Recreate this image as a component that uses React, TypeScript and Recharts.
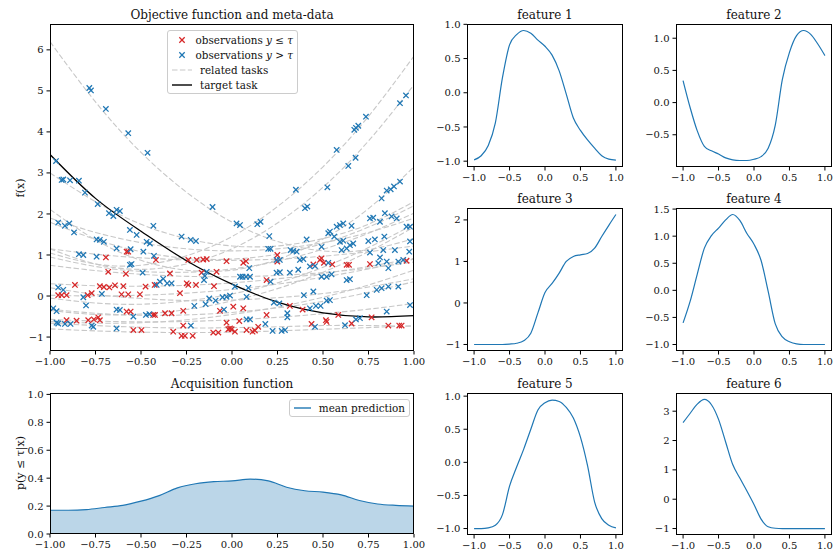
import React from "react";
import {
  ComposedChart,
  LineChart,
  AreaChart,
  Line,
  Area,
  Scatter,
  XAxis,
  YAxis,
} from "recharts";

const FONT = "'DejaVu Serif', 'Liberation Serif', serif";
const BLUE = "#1f77b4";
const RED = "#d62728";
const GRAY = "#c8c8c8";

// x positions where each task curve is sampled
const taskX = [-1, -0.75, -0.5, -0.25, 0, 0.25, 0.5, 0.75, 1];

const relatedTasks: number[][] = [
  [6.2, 4.73, 3.5, 2.53, 1.8, 1.33, 1.1, 1.13, 1.4],
  [1.05, 0.78, 0.75, 0.98, 1.45, 2.18, 3.15, 4.38, 5.85],
  [1.15, 0.78, 0.65, 0.78, 1.15, 1.78, 2.65, 3.78, 5.15],
  [2.11, 1.37, 0.87, 0.63, 0.63, 0.89, 1.39, 2.13, 3.15],
  [3.0, 2.3, 1.75, 1.4, 1.22, 1.22, 1.4, 1.75, 2.3],
  [1.9, 1.55, 1.3, 1.15, 1.1, 1.15, 1.3, 1.55, 1.9],
  [1.15, 1.02, 0.93, 0.88, 0.87, 0.9, 0.97, 1.08, 1.22],
  [0.75, 0.62, 0.53, 0.48, 0.47, 0.5, 0.57, 0.68, 0.83],
  [0.3, 0.25, 0.24, 0.26, 0.32, 0.42, 0.55, 0.72, 0.92],
  [0.2, 0.04, -0.06, -0.11, -0.1, -0.04, 0.06, 0.22, 0.42],
  [0.02, 0.0, 0.02, 0.07, 0.16, 0.29, 0.46, 0.66, 0.9],
  [-0.32, -0.42, -0.47, -0.46, -0.4, -0.29, -0.13, 0.09, 0.35],
  [-0.57, -0.61, -0.63, -0.62, -0.58, -0.52, -0.43, -0.32, -0.18],
  [-0.66, -0.72, -0.76, -0.78, -0.77, -0.75, -0.72, -0.72, -0.74],
  [-0.8, -0.85, -0.88, -0.89, -0.88, -0.85, -0.81, -0.77, -0.72],
  [1.8, 1.38, 1.08, 0.92, 0.9, 1.02, 1.28, 1.68, 2.2],
  [-0.05, -0.17, -0.2, -0.12, 0.05, 0.32, 0.7, 1.18, 1.75],
  [-0.35, -0.45, -0.44, -0.33, -0.12, 0.18, 0.58, 1.08, 1.68],
  [0.95, 0.72, 0.6, 0.58, 0.66, 0.85, 1.14, 1.53, 2.02],
  [-0.62, -0.66, -0.65, -0.58, -0.45, -0.27, -0.03, 0.27, 0.63],
];

const targetTask = [3.45, 2.38, 1.58, 0.86, 0.29, -0.15, -0.41, -0.51, -0.48];

// observations at or below the task threshold
const obsLow: [number, number][] = [
  [-0.955, 0.02], [-0.936, 0.02], [-0.909, 0.02], [-0.863, 0.27], [-0.793, 0.02],
  [-0.771, 0.07], [-0.726, 0.24], [-0.704, 0.22], [-0.693, 0.94], [-0.674, 0.21],
  [-0.643, 0.26], [-0.68, 0.59], [-0.607, 0.04], [-0.57, 0.04], [-0.583, 0.54],
  [-0.579, 1.08], [-0.57, 1.08], [-0.597, 0.24], [-0.506, 0.04], [-0.475, 0.23],
  [-0.425, 0.27], [-0.418, 0.88], [-0.579, -0.38], [-0.557, -0.38], [-0.433, -0.46],
  [-0.423, -0.46], [-0.909, -0.59], [-0.854, -0.6], [-0.79, -0.59], [-0.759, -0.57],
  [-0.735, -0.52], [-0.726, -0.59], [-0.542, -0.83], [-0.497, -0.83], [-0.368, -0.42],
  [-0.332, -0.42], [-0.341, 0.55], [-0.286, 0.07], [-0.323, -0.87], [-0.277, -0.97],
  [-0.259, -0.97], [-0.216, -0.97], [-0.268, -0.36], [-0.268, -0.72], [-0.249, 0.31],
  [-0.24, 0.27], [-0.24, 0.88], [-0.194, 0.88], [-0.158, 0.89], [-0.139, 0.9],
  [-0.167, 0.57], [-0.198, 0.27], [-0.099, 0.24], [-0.085, 0.59], [-0.066, -0.36],
  [-0.103, -0.89], [-0.075, -0.89], [-0.03, 0.85], [-0.03, -0.65], [-0.02, -0.81],
  [-0.011, -0.79], [-0.002, -0.81], [0.007, -0.26], [0.016, -0.87], [0.062, 0.81],
  [0.077, 0.85], [0.062, -0.3], [0.04, -0.61], [0.08, -0.83], [0.113, -0.87],
  [0.126, -0.84], [0.144, -0.75], [0.19, 0.39], [0.19, -0.46], [0.249, 1.0],
  [0.249, 0.84], [0.318, -0.24], [0.388, -0.33], [0.437, -0.68], [0.447, 0.77],
  [0.483, 0.88], [0.492, 0.92], [0.505, 0.81], [0.551, 0.77], [0.516, -0.59],
  [0.52, -0.63], [0.584, -0.46], [0.63, 0.76], [0.643, 0.76], [0.767, -0.52],
  [0.758, 0.78], [0.859, -0.72], [0.919, -0.72], [0.932, -0.72], [0.959, 0.86],
  [0.657, -0.67],
];

// observations above the task threshold
const obsHigh: [number, number][] = [
  [-0.967, 3.29], [-0.936, 2.83], [-0.927, 2.84], [-0.89, 2.82], [-0.841, 2.81],
  [-0.808, 2.52], [-0.784, 5.07], [-0.775, 5.01], [-0.693, 4.56], [-0.57, 3.97],
  [-0.464, 3.49], [0.575, 3.56], [0.672, 4.05], [0.681, 4.1], [0.694, 4.15],
  [0.736, 4.37], [0.923, 4.7], [0.956, 4.89], [0.639, 3.17], [0.679, 3.37],
  [0.524, 2.65], [0.351, 2.59], [0.822, 2.38], [0.85, 2.57], [0.872, 2.6],
  [0.89, 2.67], [0.923, 2.79],
  [-0.738, 2.24], [-0.676, 2.02], [-0.652, 1.95], [-0.634, 2.1], [-0.616, 2.07],
  [-0.955, 1.79], [-0.918, 1.71], [-0.894, 1.77], [-0.868, 1.55], [-0.841, 1.02],
  [-0.817, 1.0], [-0.744, 0.96], [-0.744, 1.38], [-0.726, 1.37], [-0.704, 1.32],
  [-0.634, 1.16], [-0.561, 1.61], [-0.557, 1.14], [-0.524, 1.49], [-0.487, 1.08],
  [-0.469, 1.32], [-0.451, 1.28], [-0.432, 1.71], [-0.429, 0.98], [-0.561, 0.76],
  [-0.552, 0.78], [-0.491, 0.57], [-0.955, 0.21], [-0.927, 0.15], [-0.817, -0.03],
  [-0.802, -0.23], [-0.715, 0.05], [-0.982, -0.3], [-0.964, -0.37], [-0.964, -0.65],
  [-0.955, -0.67], [-0.918, -0.68], [-0.887, -0.68], [-0.771, -0.72], [-0.762, -0.75],
  [-0.634, -0.33], [-0.616, -0.34], [-0.634, -0.79], [-0.542, -0.5], [-0.473, -0.46],
  [-0.454, -0.44], [-0.396, 0.35], [-0.378, 0.42], [-0.414, 0.27], [-0.356, 0.31],
  [-0.332, 0.31], [-0.277, 1.45], [-0.227, 1.37], [-0.198, 1.34], [-0.139, 0.59],
  [-0.154, 0.39], [-0.149, 0.49], [-0.125, -0.06], [-0.145, -0.2], [-0.207, -0.24],
  [-0.226, -0.72], [-0.09, -0.11], [-0.052, -0.03], [-0.03, -0.02], [-0.011, 0.01],
  [-0.044, -0.33], [0.016, 0.23], [0.044, 0.47], [0.058, 0.47], [0.077, 0.47],
  [0.099, 0.47], [0.095, 0.68], [0.09, 0.2], [0.08, -0.02], [0.08, -0.57],
  [0.099, -0.57], [0.025, 1.77], [0.044, 1.73], [0.139, 1.75], [0.157, 1.81],
  [-0.107, 2.17], [0.205, 1.46], [0.199, 1.15], [0.212, 1.15], [0.245, 0.88],
  [0.263, 0.88], [0.245, 0.57], [0.263, 0.58], [0.212, 0.35], [0.183, -0.68],
  [0.223, -0.85], [0.273, -0.85], [0.291, -0.83], [0.23, -0.16], [0.26, -0.18],
  [0.304, -0.42], [0.304, -0.52], [0.322, 1.12], [0.337, 1.1], [0.355, 1.08],
  [0.318, 0.57], [0.364, 0.64], [0.373, 0.88], [0.392, 0.9], [0.401, 2.14],
  [0.414, 2.18], [0.41, 1.38], [0.428, 0.72], [0.456, 0.73], [0.395, 0.02],
  [0.447, 0.11], [0.428, -0.3], [0.461, -0.24], [0.487, -0.24], [0.52, -0.11],
  [0.538, -0.1], [0.492, 0.47], [0.52, 0.47], [0.492, 1.2], [0.529, 0.81],
  [0.547, 0.53], [0.456, -0.75], [0.529, 1.53], [0.538, 1.57], [0.562, 1.45],
  [0.575, 1.69], [0.593, 1.73], [0.611, 1.77], [0.593, 1.32], [0.611, 1.35],
  [0.602, 1.12], [0.63, 1.16], [0.648, 1.24], [0.666, 1.28], [0.657, 1.71],
  [0.63, 0.39], [0.648, 0.41], [0.621, -0.71], [0.681, -0.57], [0.703, -0.54],
  [0.74, 0.02], [0.749, 1.34], [0.785, 1.38], [0.758, 1.89], [0.776, 1.91],
  [0.758, 1.06], [0.804, 0.8], [0.831, 1.12], [0.837, 1.45], [0.813, 1.81],
  [0.84, 2.02], [0.877, 1.94], [0.905, 1.89], [0.859, 0.68], [0.85, 0.84],
  [0.914, 0.84], [0.941, 0.88], [0.795, 0.15], [0.822, 0.19], [0.859, 0.23],
  [0.85, -0.38], [0.914, 0.23], [0.978, -0.22], [0.959, 1.69], [0.978, 1.69],
  [0.978, 1.33], [0.974, 1.08], [0.813, 0.94], [0.895, 1.12],
];

const mainXTicks = [-1, -0.75, -0.5, -0.25, 0, 0.25, 0.5, 0.75, 1];
const mainYTicks = [-1, 0, 1, 2, 3, 4, 5, 6];

// acquisition function: mean prediction of p(y <= tau | x)
const acqX = [-1, -0.9, -0.8, -0.7, -0.6, -0.5, -0.4, -0.3, -0.2, -0.1, 0, 0.1, 0.2, 0.3, 0.4, 0.5, 0.6, 0.7, 0.8, 0.9, 1];
const acqMean = [0.17, 0.17, 0.175, 0.19, 0.205, 0.235, 0.275, 0.33, 0.36, 0.375, 0.38, 0.393, 0.38, 0.335, 0.31, 0.3, 0.28, 0.24, 0.215, 0.205, 0.2];
const acqYTicks = [0, 0.2, 0.4, 0.6, 0.8, 1.0];

// learned features, sampled on the same grid
const featureX = acqX;
const feature1 = [-0.98, -0.92, -0.77, -0.44, 0.22, 0.7, 0.85, 0.91, 0.87, 0.77, 0.68, 0.55, 0.32, -0.02, -0.37, -0.55, -0.69, -0.81, -0.92, -0.97, -0.985];
const feature2 = [0.34, -0.08, -0.44, -0.68, -0.75, -0.8, -0.86, -0.89, -0.9, -0.9, -0.88, -0.84, -0.71, -0.35, 0.36, 0.78, 1.04, 1.12, 1.06, 0.91, 0.73];
const feature3 = [-1.0, -1.0, -1.0, -1.0, -1.0, -0.99, -0.97, -0.91, -0.73, -0.24, 0.25, 0.47, 0.72, 1.0, 1.12, 1.16, 1.19, 1.32, 1.6, 1.87, 2.13];
const feature4 = [-0.6, -0.2, 0.3, 0.78, 1.01, 1.15, 1.3, 1.4, 1.29, 1.05, 0.85, 0.55, -0.02, -0.62, -0.86, -0.95, -0.99, -1.0, -1.0, -1.0, -1.0];
const feature5 = [-1.0, -1.0, -0.99, -0.95, -0.79, -0.36, -0.07, 0.2, 0.5, 0.79, 0.9, 0.94, 0.92, 0.83, 0.67, 0.38, -0.05, -0.6, -0.85, -0.95, -0.99];
const feature6 = [2.61, 2.93, 3.24, 3.4, 3.22, 2.72, 1.95, 1.18, 0.72, 0.28, -0.18, -0.68, -0.94, -0.99, -1.0, -1.0, -1.0, -1.0, -1.0, -1.0, -1.0];
const featureXTicks = [-1, -0.5, 0, 0.5, 1];

type Box = { left: number; top: number; width: number; height: number };

const PAD = 6;
const RPAD = 16;
const YW = 40;
const XH = 24;

const tickStyle = { fontSize: 10, fontFamily: FONT, fill: "#111" };

const fmt = (digits: number) => (v: number) =>
  v.toFixed(digits).replace("-", "\u2212");

const toPts = (xs: number[], ys: number[]) => xs.map((x, i) => ({ x, y: ys[i] }));

const crossShape = (color: string) => (props: any) => {
  const { cx, cy } = props;
  const r = 2.7;
  return (
    <g stroke={color} strokeWidth={1.25}>
      <line x1={cx - r} y1={cy - r} x2={cx + r} y2={cy + r} />
      <line x1={cx - r} y1={cy + r} x2={cx + r} y2={cy - r} />
    </g>
  );
};

function Panel({ box, title, children }: { box: Box; title: string; children: React.ReactNode }) {
  return (
    <>
      <div style={{ position: "absolute", left: box.left - YW, top: box.top - PAD }}>{children}</div>
      <div
        style={{
          position: "absolute",
          left: box.left,
          top: box.top,
          width: box.width,
          height: box.height,
          border: "1px solid #000",
          boxSizing: "border-box",
          pointerEvents: "none",
        }}
      />
      <div
        style={{
          position: "absolute",
          left: box.left,
          top: box.top - 15,
          width: box.width,
          textAlign: "center",
          fontFamily: FONT,
          fontSize: 12,
          lineHeight: "12px",
          color: "#111",
          whiteSpace: "nowrap",
        }}
      >
        {title}
      </div>
    </>
  );
}

function YLabel({ x, y, children }: { x: number; y: number; children: React.ReactNode }) {
  return (
    <div
      style={{
        position: "absolute",
        left: x,
        top: y,
        transform: "translate(-50%, -50%) rotate(-90deg)",
        fontFamily: FONT,
        fontSize: 11,
        color: "#111",
        whiteSpace: "nowrap",
      }}
    >
      {children}
    </div>
  );
}

function xAxis(domain: number[], ticks: number[], digits: number) {
  return (
    <XAxis
      type="number"
      dataKey="x"
      domain={domain}
      ticks={ticks}
      tickFormatter={fmt(digits)}
      allowDataOverflow
      axisLine={false}
      tickLine={{ stroke: "#000" }}
      tickSize={3.5}
      tickMargin={3}
      tick={tickStyle}
      height={XH}
      interval={0}
    />
  );
}

function yAxis(domain: number[], ticks: number[], digits: number) {
  return (
    <YAxis
      type="number"
      dataKey="y"
      domain={domain}
      ticks={ticks}
      tickFormatter={fmt(digits)}
      allowDataOverflow
      axisLine={false}
      tickLine={{ stroke: "#000" }}
      tickSize={3.5}
      tickMargin={3}
      tick={tickStyle}
      width={YW}
      interval={0}
    />
  );
}

const chartSize = (box: Box) => ({
  width: YW + box.width + RPAD,
  height: PAD + box.height + XH,
  margin: { top: PAD, right: RPAD, bottom: 0, left: 0 },
});

const mainBox: Box = { left: 50, top: 24, width: 364, height: 327 };
const acqBox: Box = { left: 50, top: 393, width: 364, height: 141 };

const features = [
  { title: "feature 1", values: feature1, domain: [-1.085, 1.005], ticks: [-1, -0.5, 0, 0.5, 1], digits: 1, box: { left: 467, top: 24, width: 156, height: 143 } },
  { title: "feature 2", values: feature2, domain: [-1.001, 1.221], ticks: [-0.5, 0, 0.5, 1], digits: 1, box: { left: 676, top: 24, width: 156, height: 143 } },
  { title: "feature 3", values: feature3, domain: [-1.157, 2.287], ticks: [-1, 0, 1, 2], digits: 0, box: { left: 467, top: 208, width: 156, height: 143 } },
  { title: "feature 4", values: feature4, domain: [-1.12, 1.52], ticks: [-1, -0.5, 0, 0.5, 1, 1.5], digits: 1, box: { left: 676, top: 208, width: 156, height: 143 } },
  { title: "feature 5", values: feature5, domain: [-1.0975, 1.0475], ticks: [-1, -0.5, 0, 0.5, 1], digits: 1, box: { left: 467, top: 393, width: 156, height: 142 } },
  { title: "feature 6", values: feature6, domain: [-1.22, 3.62], ticks: [-1, 0, 1, 2, 3], digits: 0, box: { left: 676, top: 393, width: 156, height: 142 } },
];

function LegendHandle({ kind, color }: { kind: "cross" | "line" | "dash"; color: string }) {
  return (
    <svg width={20} height={10} style={{ display: "block" }}>
      {kind === "cross" ? (
        <g stroke={color} strokeWidth={1.25}>
          <line x1={7.3} y1={2.3} x2={12.7} y2={7.7} />
          <line x1={7.3} y1={7.7} x2={12.7} y2={2.3} />
        </g>
      ) : (
        <line
          x1={0}
          y1={5}
          x2={20}
          y2={5}
          stroke={color}
          strokeWidth={kind === "dash" ? 1.1 : 1.4}
          strokeDasharray={kind === "dash" ? "5.5 2.4" : undefined}
        />
      )}
    </svg>
  );
}

const legendBox: React.CSSProperties = {
  position: "absolute",
  border: "1px solid #cccccc",
  borderRadius: 3,
  background: "rgba(255,255,255,0.8)",
  fontFamily: FONT,
  fontSize: 10.4,
  color: "#111",
  padding: "2px 4px",
  boxSizing: "border-box",
};

const rowStyle: React.CSSProperties = {
  display: "flex",
  alignItems: "center",
  height: 14.8,
  whiteSpace: "nowrap",
};

const it: React.CSSProperties = { fontStyle: "italic" };

export default function App() {
  const lowPts = obsLow.map(([x, y]) => ({ x, y }));
  const highPts = obsHigh.map(([x, y]) => ({ x, y }));
  const acqData = toPts(acqX, acqMean);

  return (
    <div style={{ position: "absolute", left: 0, top: 0, width: 835, height: 552, background: "#fff" }}>
      <Panel box={mainBox} title="Objective function and meta-data">
        <ComposedChart {...chartSize(mainBox)}>
          {xAxis([-1, 1], mainXTicks, 2)}
          {yAxis([-1.34, 6.63], mainYTicks, 0)}
          {relatedTasks.map((t, i) => (
            <Line
              key={`task-${i}`}
              data={toPts(taskX, t)}
              dataKey="y"
              type="natural"
              stroke={GRAY}
              strokeWidth={1.1}
              strokeDasharray="5.5 2.4"
              dot={false}
              activeDot={false}
              isAnimationActive={false}
            />
          ))}
          <Scatter data={lowPts} shape={crossShape(RED)} isAnimationActive={false} />
          <Scatter data={highPts} shape={crossShape(BLUE)} isAnimationActive={false} />
          <Line
            data={toPts(taskX, targetTask)}
            dataKey="y"
            type="natural"
            stroke="#000"
            strokeWidth={1.3}
            dot={false}
            activeDot={false}
            isAnimationActive={false}
          />
        </ComposedChart>
      </Panel>
      <YLabel x={20} y={188}>f(x)</YLabel>

      <div style={{ ...legendBox, left: 167, top: 30, width: 131, height: 64 }}>
        <div style={rowStyle}>
          <LegendHandle kind="cross" color={RED} />
          <span style={{ marginLeft: 8 }}>
            observations <span style={it}>y</span> ≤ <span style={it}>τ</span>
          </span>
        </div>
        <div style={rowStyle}>
          <LegendHandle kind="cross" color={BLUE} />
          <span style={{ marginLeft: 8 }}>
            observations <span style={it}>y</span> &gt; <span style={it}>τ</span>
          </span>
        </div>
        <div style={rowStyle}>
          <LegendHandle kind="dash" color={GRAY} />
          <span style={{ marginLeft: 8 }}>related tasks</span>
        </div>
        <div style={rowStyle}>
          <LegendHandle kind="line" color="#000" />
          <span style={{ marginLeft: 8 }}>target task</span>
        </div>
      </div>

      <Panel box={acqBox} title="Acquisition function">
        <AreaChart {...chartSize(acqBox)} data={acqData}>
          {xAxis([-1, 1], mainXTicks, 2)}
          {yAxis([0, 1.01], acqYTicks, 1)}
          <Area
            dataKey="y"
            type="monotone"
            stroke={BLUE}
            strokeWidth={1.2}
            fill={BLUE}
            fillOpacity={0.3}
            activeDot={false}
            isAnimationActive={false}
          />
        </AreaChart>
      </Panel>
      <YLabel x={20} y={463}>p(y ≤ τ|x)</YLabel>

      <div style={{ ...legendBox, left: 289, top: 399, width: 121, height: 18 }}>
        <div style={{ ...rowStyle, height: 12 }}>
          <LegendHandle kind="line" color={BLUE} />
          <span style={{ marginLeft: 8 }}>mean prediction</span>
        </div>
      </div>

      {features.map((f) => (
        <Panel key={f.title} box={f.box} title={f.title}>
          <LineChart {...chartSize(f.box)} data={toPts(featureX, f.values)}>
            {xAxis([-1.1, 1.1], featureXTicks, 1)}
            {yAxis(f.domain, f.ticks, f.digits)}
            <Line
              dataKey="y"
              type="monotone"
              stroke={BLUE}
              strokeWidth={1.2}
              dot={false}
              activeDot={false}
              isAnimationActive={false}
            />
          </LineChart>
        </Panel>
      ))}
    </div>
  );
}
